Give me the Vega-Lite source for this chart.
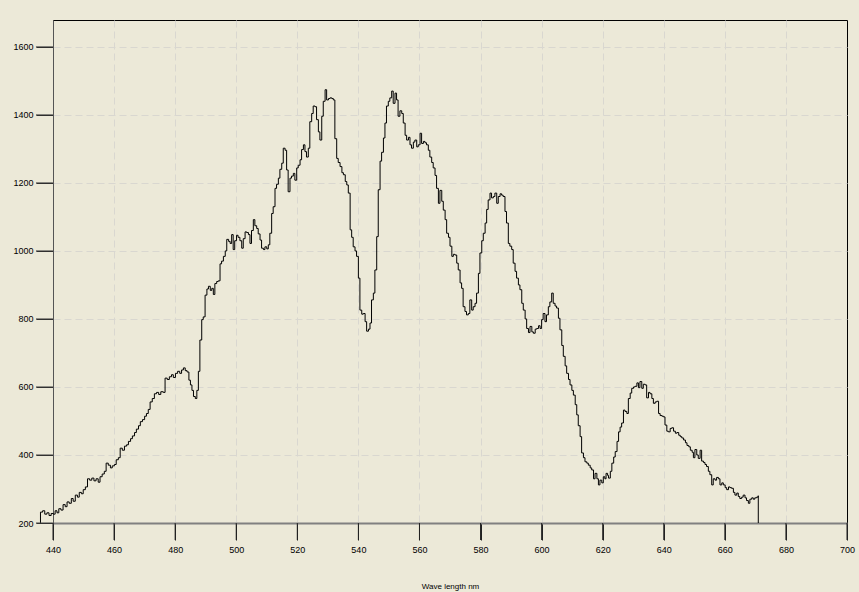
{
  "$schema": "https://vega.github.io/schema/vega-lite/v6.json",
  "autosize": {"type": "none"},
  "width": 794,
  "height": 503,
  "padding": {"left": 53, "top": 20, "right": 12, "bottom": 69},
  "background": "#ECE9D8",
  "config": {
    "view": {"fill": "#ECE9D8", "stroke": "#000000", "strokeWidth": 1},
    "axis": {
      "labelFont": "Liberation Sans",
      "titleFont": "Liberation Sans",
      "labelFontSize": 9,
      "labelColor": "#000000",
      "titleColor": "#000000",
      "titleFontWeight": "normal",
      "titleFontSize": 8,
      "domainColor": "#555555",
      "gridColor": "#d9d7d0",
      "gridDash": [7, 4],
      "ticks": true,
      "tickSize": 17,
      "tickColor": "#222222"
    }
  },
  "datasets": {
    "xt": [{"t":440},{"t":460},{"t":480},{"t":500},{"t":520},{"t":540},{"t":560},{"t":580},{"t":600},{"t":620},{"t":640},{"t":660},{"t":680},{"t":700}],
    "yt": [{"t":200},{"t":400},{"t":600},{"t":800},{"t":1000},{"t":1200},{"t":1400},{"t":1600}],
    "spectrum": [
{"wl":435.8,"v":200},{"wl":435.9,"v":232},{"wl":436.6,"v":236},{"wl":437.3,"v":226},{"wl":438.0,"v":230},{"wl":438.7,"v":222},{"wl":439.4,"v":228},{"wl":440.1,"v":226},{"wl":440.7,"v":236},{"wl":441.3,"v":230},{"wl":441.9,"v":242},{"wl":442.6,"v":238},{"wl":443.3,"v":254},{"wl":444.0,"v":248},{"wl":444.6,"v":262},{"wl":445.3,"v":258},{"wl":446.0,"v":272},{"wl":446.6,"v":264},{"wl":447.3,"v":282},{"wl":448.0,"v":276},{"wl":448.6,"v":290},{"wl":449.3,"v":286},{"wl":449.9,"v":298},{"wl":450.6,"v":306},{"wl":451.3,"v":330},{"wl":452.0,"v":326},{"wl":452.7,"v":332},{"wl":453.4,"v":324},{"wl":454.1,"v":330},{"wl":454.8,"v":320},{"wl":455.4,"v":336},{"wl":456.1,"v":344},{"wl":456.8,"v":352},{"wl":457.4,"v":376},{"wl":458.1,"v":370},{"wl":458.8,"v":362},{"wl":459.4,"v":368},{"wl":460.1,"v":372},{"wl":460.7,"v":386},{"wl":461.4,"v":392},{"wl":462.0,"v":420},{"wl":462.7,"v":414},{"wl":463.4,"v":426},{"wl":464.1,"v":430},{"wl":464.7,"v":440},{"wl":465.4,"v":448},{"wl":466.0,"v":456},{"wl":466.7,"v":466},{"wl":467.3,"v":476},{"wl":468.0,"v":486},{"wl":468.6,"v":498},{"wl":469.3,"v":504},{"wl":470.0,"v":514},{"wl":470.6,"v":522},{"wl":471.2,"v":534},{"wl":471.8,"v":556},{"wl":472.5,"v":566},{"wl":473.2,"v":580},{"wl":473.9,"v":584},{"wl":474.6,"v":578},{"wl":475.3,"v":586},{"wl":476.1,"v":584},{"wl":476.7,"v":626},{"wl":477.4,"v":622},{"wl":478.1,"v":630},{"wl":478.8,"v":636},{"wl":479.4,"v":628},{"wl":480.1,"v":640},{"wl":480.8,"v":646},{"wl":481.5,"v":640},{"wl":482.1,"v":650},{"wl":482.7,"v":656},{"wl":483.3,"v":648},{"wl":483.9,"v":644},{"wl":484.5,"v":620},{"wl":485.0,"v":606},{"wl":485.5,"v":590},{"wl":486.0,"v":572},{"wl":486.6,"v":566},{"wl":487.1,"v":590},{"wl":487.6,"v":646},{"wl":488.1,"v":738},{"wl":488.7,"v":798},{"wl":489.2,"v":806},{"wl":489.8,"v":870},{"wl":490.4,"v":888},{"wl":490.9,"v":896},{"wl":491.5,"v":884},{"wl":492.0,"v":890},{"wl":492.5,"v":872},{"wl":493.0,"v":904},{"wl":493.6,"v":910},{"wl":494.1,"v":912},{"wl":494.7,"v":962},{"wl":495.2,"v":970},{"wl":495.8,"v":984},{"wl":496.4,"v":1000},{"wl":496.9,"v":1034},{"wl":497.5,"v":1028},{"wl":498.0,"v":1022},{"wl":498.5,"v":1048},{"wl":499.0,"v":1004},{"wl":499.5,"v":1030},{"wl":500.1,"v":1046},{"wl":500.6,"v":1040},{"wl":501.2,"v":1030},{"wl":501.8,"v":1008},{"wl":502.3,"v":1036},{"wl":502.9,"v":1056},{"wl":503.4,"v":1054},{"wl":504.0,"v":1048},{"wl":504.5,"v":1022},{"wl":505.0,"v":1060},{"wl":505.6,"v":1092},{"wl":506.1,"v":1074},{"wl":506.7,"v":1066},{"wl":507.2,"v":1050},{"wl":507.8,"v":1032},{"wl":508.3,"v":1008},{"wl":508.9,"v":1004},{"wl":509.4,"v":1012},{"wl":510.0,"v":1006},{"wl":510.5,"v":1018},{"wl":511.0,"v":1052},{"wl":511.6,"v":1110},{"wl":512.1,"v":1130},{"wl":512.7,"v":1184},{"wl":513.2,"v":1196},{"wl":513.8,"v":1214},{"wl":514.3,"v":1240},{"wl":514.9,"v":1258},{"wl":515.4,"v":1302},{"wl":516.0,"v":1296},{"wl":516.5,"v":1238},{"wl":517.0,"v":1174},{"wl":517.6,"v":1214},{"wl":518.1,"v":1220},{"wl":518.7,"v":1228},{"wl":519.2,"v":1208},{"wl":519.8,"v":1244},{"wl":520.3,"v":1252},{"wl":520.9,"v":1268},{"wl":521.4,"v":1298},{"wl":522.0,"v":1312},{"wl":522.5,"v":1292},{"wl":523.0,"v":1276},{"wl":523.6,"v":1302},{"wl":524.1,"v":1380},{"wl":524.7,"v":1404},{"wl":525.2,"v":1426},{"wl":525.8,"v":1424},{"wl":526.3,"v":1386},{"wl":526.9,"v":1350},{"wl":527.4,"v":1326},{"wl":528.0,"v":1396},{"wl":528.5,"v":1440},{"wl":529.1,"v":1474},{"wl":529.6,"v":1444},{"wl":530.2,"v":1448},{"wl":530.7,"v":1450},{"wl":531.3,"v":1448},{"wl":531.8,"v":1444},{"wl":532.3,"v":1330},{"wl":532.9,"v":1272},{"wl":533.4,"v":1260},{"wl":534.0,"v":1248},{"wl":534.6,"v":1230},{"wl":535.1,"v":1224},{"wl":535.7,"v":1204},{"wl":536.2,"v":1194},{"wl":536.7,"v":1170},{"wl":537.3,"v":1062},{"wl":537.8,"v":1040},{"wl":538.3,"v":1012},{"wl":538.9,"v":1000},{"wl":539.4,"v":984},{"wl":540.0,"v":920},{"wl":540.5,"v":826},{"wl":541.1,"v":814},{"wl":541.6,"v":816},{"wl":542.2,"v":792},{"wl":542.7,"v":764},{"wl":543.3,"v":770},{"wl":543.8,"v":788},{"wl":544.3,"v":856},{"wl":544.9,"v":876},{"wl":545.4,"v":944},{"wl":546.0,"v":1042},{"wl":546.5,"v":1180},{"wl":547.1,"v":1264},{"wl":547.6,"v":1290},{"wl":548.2,"v":1332},{"wl":548.7,"v":1376},{"wl":549.2,"v":1426},{"wl":549.8,"v":1440},{"wl":550.3,"v":1450},{"wl":550.9,"v":1470},{"wl":551.4,"v":1434},{"wl":552.0,"v":1464},{"wl":552.5,"v":1444},{"wl":553.0,"v":1396},{"wl":553.6,"v":1412},{"wl":554.2,"v":1404},{"wl":554.7,"v":1376},{"wl":555.3,"v":1340},{"wl":555.8,"v":1326},{"wl":556.4,"v":1334},{"wl":556.9,"v":1312},{"wl":557.4,"v":1302},{"wl":558.0,"v":1320},{"wl":558.5,"v":1326},{"wl":559.1,"v":1306},{"wl":559.6,"v":1312},{"wl":560.2,"v":1346},{"wl":560.7,"v":1316},{"wl":561.3,"v":1322},{"wl":561.8,"v":1318},{"wl":562.3,"v":1312},{"wl":562.9,"v":1296},{"wl":563.4,"v":1276},{"wl":564.0,"v":1260},{"wl":564.5,"v":1244},{"wl":565.1,"v":1222},{"wl":565.6,"v":1184},{"wl":566.2,"v":1140},{"wl":566.7,"v":1178},{"wl":567.3,"v":1146},{"wl":567.8,"v":1120},{"wl":568.4,"v":1092},{"wl":568.9,"v":1052},{"wl":569.5,"v":1040},{"wl":570.0,"v":1014},{"wl":570.6,"v":984},{"wl":571.1,"v":990},{"wl":571.6,"v":988},{"wl":572.2,"v":964},{"wl":572.7,"v":944},{"wl":573.3,"v":906},{"wl":573.8,"v":890},{"wl":574.3,"v":836},{"wl":574.9,"v":822},{"wl":575.4,"v":812},{"wl":576.0,"v":816},{"wl":576.5,"v":856},{"wl":577.1,"v":826},{"wl":577.6,"v":836},{"wl":578.2,"v":846},{"wl":578.7,"v":876},{"wl":579.3,"v":934},{"wl":579.8,"v":994},{"wl":580.4,"v":1030},{"wl":580.9,"v":1052},{"wl":581.5,"v":1082},{"wl":582.0,"v":1122},{"wl":582.5,"v":1150},{"wl":583.1,"v":1170},{"wl":583.6,"v":1156},{"wl":584.2,"v":1160},{"wl":584.7,"v":1170},{"wl":585.3,"v":1140},{"wl":585.8,"v":1160},{"wl":586.4,"v":1168},{"wl":586.9,"v":1164},{"wl":587.4,"v":1160},{"wl":588.0,"v":1116},{"wl":588.5,"v":1082},{"wl":589.1,"v":1022},{"wl":589.6,"v":1014},{"wl":590.2,"v":1004},{"wl":590.7,"v":964},{"wl":591.3,"v":940},{"wl":591.8,"v":920},{"wl":592.4,"v":900},{"wl":592.9,"v":886},{"wl":593.5,"v":846},{"wl":594.0,"v":826},{"wl":594.6,"v":800},{"wl":595.1,"v":772},{"wl":595.7,"v":760},{"wl":596.2,"v":778},{"wl":596.8,"v":762},{"wl":597.3,"v":758},{"wl":597.9,"v":770},{"wl":598.4,"v":772},{"wl":599.0,"v":780},{"wl":599.5,"v":772},{"wl":600.0,"v":798},{"wl":600.5,"v":816},{"wl":601.1,"v":792},{"wl":601.6,"v":812},{"wl":602.2,"v":836},{"wl":602.7,"v":850},{"wl":603.3,"v":876},{"wl":603.8,"v":846},{"wl":604.4,"v":838},{"wl":604.9,"v":832},{"wl":605.5,"v":802},{"wl":606.0,"v":768},{"wl":606.6,"v":722},{"wl":607.1,"v":690},{"wl":607.7,"v":662},{"wl":608.2,"v":640},{"wl":608.8,"v":622},{"wl":609.3,"v":606},{"wl":609.9,"v":590},{"wl":610.4,"v":576},{"wl":611.0,"v":548},{"wl":611.5,"v":518},{"wl":612.0,"v":486},{"wl":612.6,"v":454},{"wl":613.1,"v":406},{"wl":613.7,"v":392},{"wl":614.2,"v":380},{"wl":614.8,"v":376},{"wl":615.3,"v":370},{"wl":615.9,"v":362},{"wl":616.4,"v":356},{"wl":617.0,"v":330},{"wl":617.5,"v":346},{"wl":618.1,"v":330},{"wl":618.6,"v":312},{"wl":619.1,"v":326},{"wl":619.7,"v":318},{"wl":620.2,"v":336},{"wl":620.7,"v":330},{"wl":621.1,"v":346},{"wl":621.6,"v":340},{"wl":621.9,"v":332},{"wl":622.5,"v":352},{"wl":623.0,"v":376},{"wl":623.6,"v":394},{"wl":624.1,"v":410},{"wl":624.7,"v":440},{"wl":625.2,"v":468},{"wl":625.7,"v":482},{"wl":626.2,"v":494},{"wl":626.8,"v":532},{"wl":627.3,"v":528},{"wl":627.9,"v":522},{"wl":628.4,"v":566},{"wl":629.0,"v":582},{"wl":629.5,"v":596},{"wl":630.1,"v":600},{"wl":630.6,"v":602},{"wl":631.2,"v":612},{"wl":631.7,"v":598},{"wl":632.2,"v":616},{"wl":632.8,"v":596},{"wl":633.3,"v":608},{"wl":633.9,"v":606},{"wl":634.4,"v":568},{"wl":635.0,"v":584},{"wl":635.5,"v":580},{"wl":636.1,"v":566},{"wl":636.6,"v":552},{"wl":637.2,"v":556},{"wl":637.7,"v":558},{"wl":638.3,"v":522},{"wl":638.8,"v":516},{"wl":639.4,"v":514},{"wl":639.9,"v":512},{"wl":640.4,"v":488},{"wl":641.0,"v":470},{"wl":641.5,"v":468},{"wl":642.1,"v":478},{"wl":642.6,"v":480},{"wl":643.2,"v":470},{"wl":643.8,"v":464},{"wl":644.3,"v":466},{"wl":644.9,"v":458},{"wl":645.4,"v":454},{"wl":645.9,"v":450},{"wl":646.5,"v":444},{"wl":647.1,"v":436},{"wl":647.6,"v":428},{"wl":648.2,"v":424},{"wl":648.7,"v":414},{"wl":649.3,"v":408},{"wl":649.7,"v":392},{"wl":650.2,"v":416},{"wl":650.8,"v":400},{"wl":651.3,"v":390},{"wl":651.9,"v":414},{"wl":652.4,"v":382},{"wl":653.0,"v":378},{"wl":653.5,"v":372},{"wl":654.0,"v":366},{"wl":654.6,"v":352},{"wl":655.1,"v":342},{"wl":655.7,"v":312},{"wl":656.2,"v":330},{"wl":656.8,"v":326},{"wl":657.3,"v":334},{"wl":657.9,"v":330},{"wl":658.4,"v":312},{"wl":659.0,"v":318},{"wl":659.5,"v":312},{"wl":660.1,"v":304},{"wl":660.6,"v":298},{"wl":661.2,"v":306},{"wl":661.7,"v":304},{"wl":662.2,"v":302},{"wl":662.8,"v":290},{"wl":663.3,"v":282},{"wl":663.9,"v":288},{"wl":664.4,"v":278},{"wl":664.9,"v":272},{"wl":665.5,"v":276},{"wl":666.0,"v":282},{"wl":666.6,"v":274},{"wl":667.1,"v":266},{"wl":667.7,"v":258},{"wl":668.2,"v":270},{"wl":668.8,"v":274},{"wl":669.3,"v":270},{"wl":669.8,"v":274},{"wl":670.4,"v":276},{"wl":670.9,"v":280},{"wl":670.95,"v":200}
    ]
  },
  "layer": [
    {
      "data": {"name": "spectrum"},
      "mark": {"type": "line", "interpolate": "step-after", "color": "#000000", "strokeWidth": 1, "clip": false},
      "encoding": {
        "x": {
          "field": "wl", "type": "quantitative",
          "scale": {"domain": [440, 700], "nice": false, "zero": false},
          "axis": {
            "values": [440,460,480,500,520,540,560,580,600,620,640,660,680,700],
            "format": "d",
            "title": "Wave length nm", "titlePadding": 28, "labelPadding": 5,
            "domainWidth": 2, "domainColor": "#808080", "labelFlush": false,
            "gridOpacity": {"condition": {"test": "datum.value == 700 || datum.value == 440", "value": 0}, "value": 1}
          }
        },
        "y": {
          "field": "v", "type": "quantitative",
          "scale": {"domain": [200, 1679], "nice": false, "zero": false},
          "axis": {
            "values": [200,400,600,800,1000,1200,1400,1600],
            "format": "d",
            "title": null, "labelPadding": 3,
            "gridOpacity": {"condition": {"test": "datum.value == 200", "value": 0}, "value": 1}
          }
        }
      }
    },
    {
      "data": {"name": "xt"},
      "mark": {"type": "tick", "color": "#222222", "orient": "vertical", "size": 17, "thickness": 1, "opacity": 1, "clip": false},
      "encoding": {
        "x": {"field": "t", "type": "quantitative"},
        "y": {"datum": 175}
      }
    },
    {
      "data": {"name": "yt"},
      "mark": {"type": "tick", "color": "#444444", "orient": "horizontal", "size": 17, "thickness": 1, "opacity": 1, "clip": false},
      "encoding": {
        "y": {"field": "t", "type": "quantitative"},
        "x": {"datum": 437.2}
      }
    }
  ]
}
